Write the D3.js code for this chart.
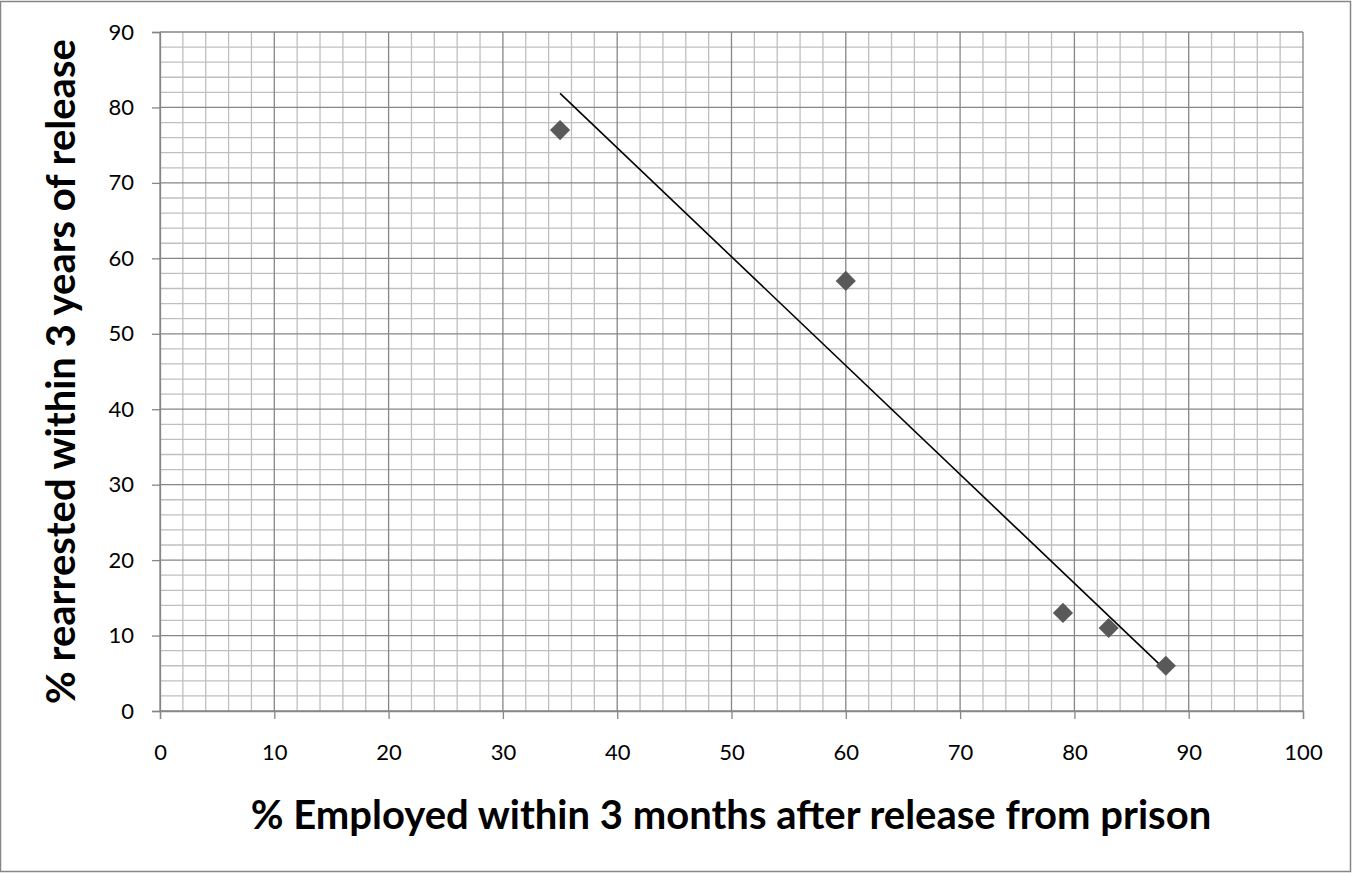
<!DOCTYPE html>
<html><head><meta charset="utf-8">
<script src="https://cdn.jsdelivr.net/npm/d3@7"></script>
<style>body{margin:0;background:#fff}svg{display:block}text{font-family:Lato,"Open Sans",sans-serif}</style>
</head><body>
<svg id="c" width="1353" height="873"></svg>
<script>
const employed = [35, 60, 79, 83, 88];
const rearrested = [77, 57, 13, 11, 6];
const xTicks = [0,10,20,30,40,50,60,70,80,90,100];
const yTicks = [0,10,20,30,40,50,60,70,80,90];
const xTitle = "% Employed within 3 months after release from prison";
const yTitle = "% rearrested within 3 years of release";

const svg = d3.select("#c");
svg.append("rect").attr("x",0.5).attr("y",1.5).attr("width",1350).attr("height",870)
  .attr("fill","#fff").attr("stroke","#868686").attr("stroke-width",1.5);
const m = {l:160, r:1303, t:32, b:711};
const x = d3.scaleLinear().domain([0,100]).range([m.l,m.r]);
const y = d3.scaleLinear().domain([0,90]).range([m.b,m.t]);
const g = svg.append("g");
// minor grid
d3.range(0,101,2).filter(v=>v%10).forEach(v=>g.append("line").attr("x1",x(v)).attr("x2",x(v)).attr("y1",y(0)).attr("y2",y(90)).attr("stroke","#bfbfbf").attr("stroke-width",1.3));
d3.range(0,91,2).filter(v=>v%10).forEach(v=>g.append("line").attr("y1",y(v)).attr("y2",y(v)).attr("x1",x(0)).attr("x2",x(100)).attr("stroke","#bfbfbf").attr("stroke-width",1.3));
// major grid
xTicks.forEach(v=>g.append("line").attr("x1",x(v)).attr("x2",x(v)).attr("y1",y(0)).attr("y2",y(90)).attr("stroke","#868686").attr("stroke-width",1.3));
yTicks.forEach(v=>g.append("line").attr("y1",y(v)).attr("y2",y(v)).attr("x1",x(0)).attr("x2",x(100)).attr("stroke","#868686").attr("stroke-width",1.3));
// axes
const xa = svg.append("g").attr("transform",`translate(0,${y(0)})`)
  .call(d3.axisBottom(x).tickValues(xTicks).tickSize(8).tickPadding(25).tickFormat(d3.format("d")));
const ya = svg.append("g").attr("transform",`translate(${x(0)},0)`)
  .call(d3.axisLeft(y).tickValues(yTicks).tickSize(8).tickPadding(18).tickFormat(d3.format("d")));
[xa,ya].forEach(a=>{a.attr("font-family",null).attr("font-size",null);
  a.select(".domain").attr("stroke","#868686").attr("stroke-width",1.3);
  a.selectAll(".tick line").attr("stroke","#868686").attr("stroke-width",1.3);
  a.selectAll("text").style("font-size","22px").attr("fill","#000");});
// trendline (least squares)
const mx = d3.mean(employed), my = d3.mean(rearrested);
const slope = d3.sum(employed.map((v,i)=>(v-mx)*(rearrested[i]-my)))/d3.sum(employed.map(v=>(v-mx)**2));
const x0 = d3.min(employed), x1 = d3.max(employed);
svg.append("line").attr("x1",x(x0)).attr("y1",y(my+slope*(x0-mx))).attr("x2",x(x1)).attr("y2",y(my+slope*(x1-mx)))
  .attr("stroke","#000").attr("stroke-width",1.6);
// points
svg.selectAll("path.pt").data(employed).join("path").attr("class","pt")
  .attr("d",d3.symbol().type(d3.symbolDiamond2).size(260)())
  .attr("transform",(d,i)=>`translate(${x(d)},${y(rearrested[i])})`)
  .attr("fill","#595959");
// titles
svg.append("text").attr("x",731).attr("y",829).attr("text-anchor","middle")
  .style("font-size","40px").attr("font-weight","bold").text(xTitle);
svg.append("text").attr("transform",`translate(75,${(m.t+m.b)/2}) rotate(-90)`).attr("text-anchor","middle")
  .style("font-size","40px").attr("font-weight","bold").text(yTitle);
</script></body></html>
